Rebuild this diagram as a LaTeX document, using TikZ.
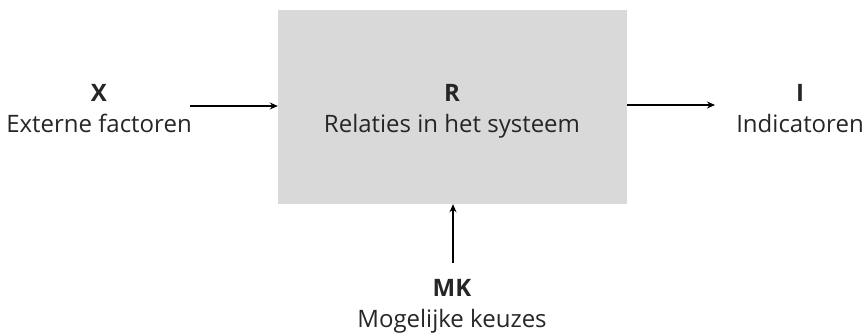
\documentclass[tikz,border=0pt]{standalone}
\usepackage{fontspec}
\setmainfont{Open Sans}
\usetikzlibrary{arrows.meta}

\definecolor{boxgray}{HTML}{D9D9D9}
\definecolor{textgray}{HTML}{262626}

\tikzset{
  label/.style={align=center, text=textgray, inner sep=0pt, font=\fontsize{24}{31}\selectfont},
  flow/.style={-{Stealth[length=8pt, width=7pt]}, line width=1.4pt, black}
}

\begin{document}
\begin{tikzpicture}[x=1pt, y=-1pt]

    \useasboundingbox (0,0) rectangle (866,334);

    \node[fill=boxgray, minimum width=349pt, minimum height=194pt, inner sep=0pt] (R) at (452.5,107) {};

    \node[label, anchor=base] (Rtxt) at (452,132) {\textbf{R}\\Relaties in het systeem};

    \node[label, anchor=base] (X) at (99,132) {\textbf{X}\\Externe factoren};

    \node[label, anchor=base] (I) at (800,132) {\textbf{I}\\Indicatoren};

    \node[label, anchor=base] (MK) at (452,327) {\textbf{MK}\\Mogelijke keuzes};

    \coordinate (xs) at (190,106);
    \coordinate (ie) at (715,105);
    \coordinate (ms) at (453,263);

    \draw[flow] (xs) -- (xs -| R.west);

    \draw[flow] (ie -| R.east) -- (ie);

    \draw[flow] (ms) -- (ms |- R.south);

  \end{tikzpicture}
\end{document}
